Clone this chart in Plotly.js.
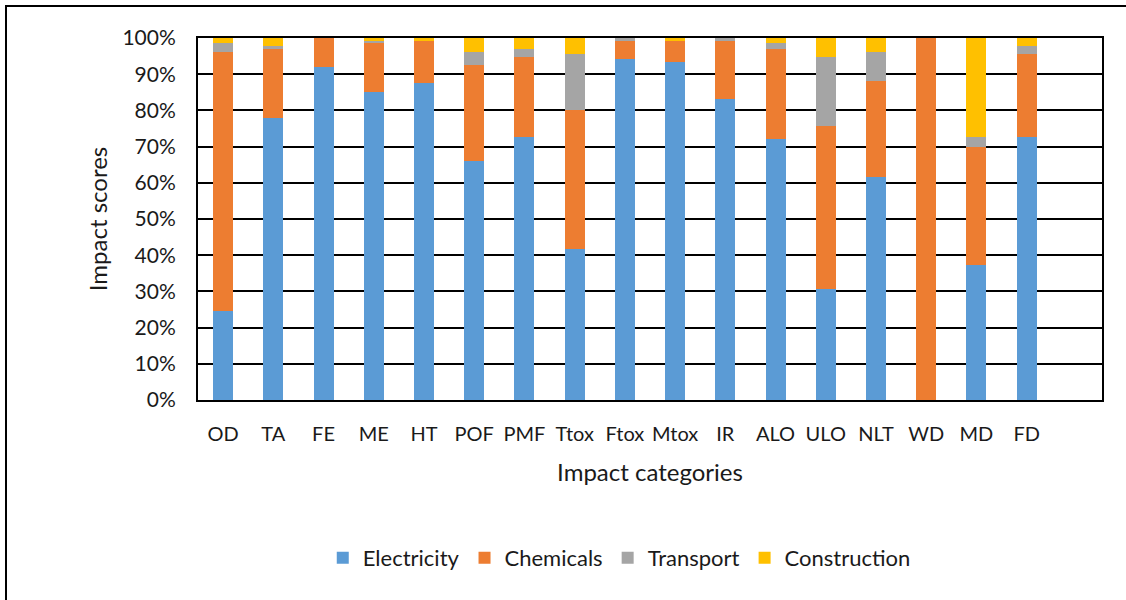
<!DOCTYPE html>
<html>
<head>
<meta charset="utf-8">
<script src="https://cdn.plot.ly/plotly-3.0.1.min.js"></script>
<style>
html,body{margin:0;padding:0;background:#fff;}
#wrap{position:relative;width:1126px;height:600px;overflow:hidden;}
#chart{position:absolute;left:0;top:0;width:1126px;height:600px;}
#frame{position:absolute;left:5px;top:5px;width:1130px;height:610px;border:2px solid #000;box-sizing:border-box;pointer-events:none;}
</style>
</head>
<body>
<div id="wrap"><div id="chart"></div><div id="frame"></div></div>
<script>
const categories = ['OD','TA','FE','ME','HT','POF','PMF','Ttox','Ftox','Mtox','IR','ALO','ULO','NLT','WD','MD','FD'];
const electricity  = [24.7, 77.8, 91.9, 85.2, 87.5, 66.1, 72.6, 41.6, 94.1, 93.4, 83.1, 72.0, 30.7, 61.6, 0,   37.2, 72.6];
const chemicals    = [71.5, 19.1,  8.1, 13.3, 11.8, 26.4, 22.2, 38.5,  5.2,  5.9, 16.2, 25.0, 45.0, 26.5, 100, 32.6, 22.9];
const transport    = [ 2.4,  0.9,  0,    0.7,  0,    3.7,  2.2, 15.4,  0.7,  0,    0.7,  1.5, 19.1,  8.1, 0,    2.8,  2.3];
const construction = [ 1.4,  2.2,  0,    0.8,  0.7,  3.8,  3.0,  4.5,  0,    0.7,  0,    1.5,  5.2,  3.8, 0,   27.4,  2.2];
const seriesNames = ['Electricity','Chemicals','Transport','Construction'];
const seriesColors = ['#5B9BD5','#ED7D31','#A5A5A5','#FFC000'];
const seriesData = [electricity, chemicals, transport, construction];

const traces = seriesData.map((vals, i) => ({
  type: 'bar',
  name: seriesNames[i],
  x: categories,
  y: vals,
  width: 0.4,
  marker: {color: seriesColors[i], line: {width: 0}},
  hoverinfo: 'x+y+name'
}));

const font = "Lato, 'Open Sans', sans-serif";
const txt = '#1a1a1a';
const layout = {
  width: 1126, height: 600,
  margin: {l: 198, r: 24, t: 38, b: 200},
  paper_bgcolor: '#fff', plot_bgcolor: '#fff',
  barmode: 'stack',
  bargap: 0.6,
  font: {family: font, size: 20, color: txt},
  xaxis: {
    type: 'category',
    range: [-0.5, 17.5],
    showline: true, mirror: true, linecolor: '#000', linewidth: 2,
    showgrid: false, ticks: '', zeroline: false,
    tickfont: {family: font, size: 20, color: txt},
    ticklabelstandoff: 15,
    title: {text: 'Impact categories', font: {family: font, size: 24, color: txt}, standoff: 20}
  },
  yaxis: {
    range: [0, 100], dtick: 10, ticksuffix: '%',
    showline: true, mirror: true, linecolor: '#000', linewidth: 2,
    showgrid: true, gridcolor: '#000', gridwidth: 2,
    zeroline: false, ticks: '',
    tickfont: {family: font, size: 21, color: txt},
    ticklabelstandoff: 16,
    title: {text: 'Impact scores', font: {family: font, size: 24, color: txt}, standoff: 8}
  },
  legend: {
    orientation: 'h', x: 0.466, xanchor: 'center', y: -0.436, yanchor: 'middle',
    font: {family: font, size: 22, color: txt},
    itemwidth: 30, traceorder: 'normal'
  },
  showlegend: true
};

Plotly.newPlot('chart', traces, layout, {displayModeBar: false, staticPlot: true});
</script>
</body>
</html>
